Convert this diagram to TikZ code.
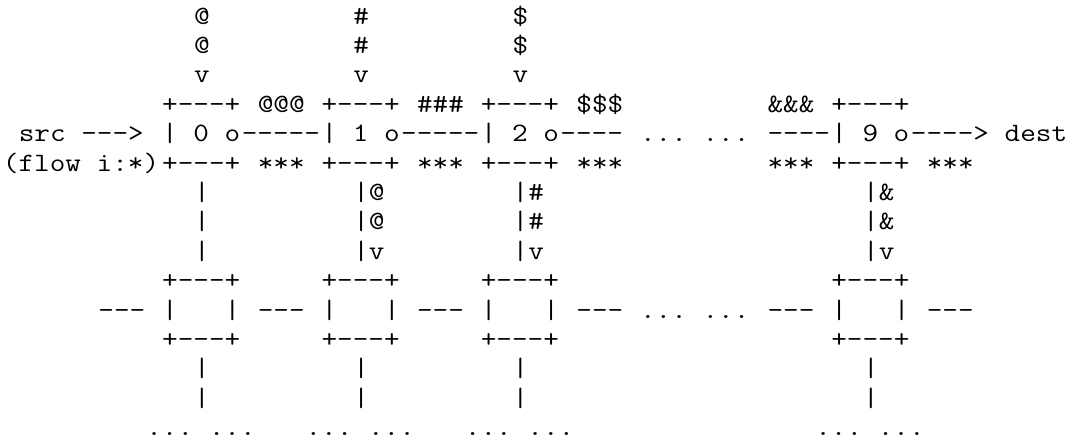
\documentclass[tikz,border=0pt]{standalone}
\usepackage{fontspec}
\setmonofont{Latin Modern Mono}[FakeStretch=1.1429]

\begin{document}
\begin{tikzpicture}[
  x=15.93pt, y=-29.4pt,
  ascii/.style={font={\ttfamily\fontsize{26.55pt}{29.4pt}\selectfont\frenchspacing}, inner sep=0pt, anchor=base west},
]
  \useasboundingbox (-2.7pt,-5.4pt) rectangle (1073.3pt,-444.4pt);

  % Flows coming in from above
  \foreach \c/\s in {12/@, 22/\#, 32/\$} {
    \node[ascii] (in\c-a) at (\c,1) {\s};
    \node[ascii] (in\c-b) at (\c,2) {\s};
    \node[ascii] (in\c-v) at (\c,3) {v};
  }

  % Switch boxes on the path
  \foreach \k/\c in {0/10, 1/20, 2/30, 9/52} {
    \node[ascii] (sw\k-top) at (\c,4) {+---+};
    \node[ascii] (sw\k) at (\c,5) {| \k{} o};
    \node[ascii] (sw\k-bot) at (\c,6) {+---+};
  }

  % Path from src to dest
  \node[ascii] (src) at (1,5) {src --->};
  \node[ascii] (flow) at (0,6) {(flow i:*)};
  \node[ascii] (link01) at (15,5) {-----};
  \node[ascii] (link12) at (25,5) {-----};
  \node[ascii] (link2x) at (35,5) {----};
  \node[ascii] (gap) at (40,5) {... ...};
  \node[ascii] (linkx9) at (48,5) {----};
  \node[ascii] (dest) at (57,5) {----> dest};

  % Marks on the links
  \node[ascii] (mark01) at (16,4) {@@@};
  \node[ascii] (mark12) at (26,4) {\#\#\#};
  \node[ascii] (mark2x) at (36,4) {\$\$\$};
  \node[ascii] (markx9) at (48,4) {\&\&\&};
  \foreach \c in {16, 26, 36, 48, 58}
    \node[ascii] (star\c) at (\c,6) {***};

  % Branches down to the next row
  \node[ascii] (down0-a) at (12,7) {|};
  \node[ascii] (down0-b) at (12,8) {|};
  \node[ascii] (down0-c) at (12,9) {|};
  \foreach \k/\c/\s in {1/22/@, 2/32/\#, 9/54/\&} {
    \node[ascii] (down\k-a) at (\c,7) {|\s};
    \node[ascii] (down\k-b) at (\c,8) {|\s};
    \node[ascii] (down\k-c) at (\c,9) {|v};
  }

  % Next row of switches
  \foreach \k/\c in {0/10, 1/20, 2/30, 9/52} {
    \node[ascii] (nb\k-top) at (\c,10) {+---+};
    \node[ascii] (nb\k) at (\c,11) {|~~~|};
    \node[ascii] (nb\k-bot) at (\c,12) {+---+};
    \node[ascii] (nb\k-a) at (\c+2,13) {|};
    \node[ascii] (nb\k-b) at (\c+2,14) {|};
    \node[ascii] (nb\k-more) at (\c-1,15) {... ...};
  }
  \foreach \c in {6, 16, 26, 36, 48, 58}
    \node[ascii] (nlink\c) at (\c,11) {---};
  \node[ascii] (ngap) at (40,11) {... ...};

\end{tikzpicture}
\end{document}
